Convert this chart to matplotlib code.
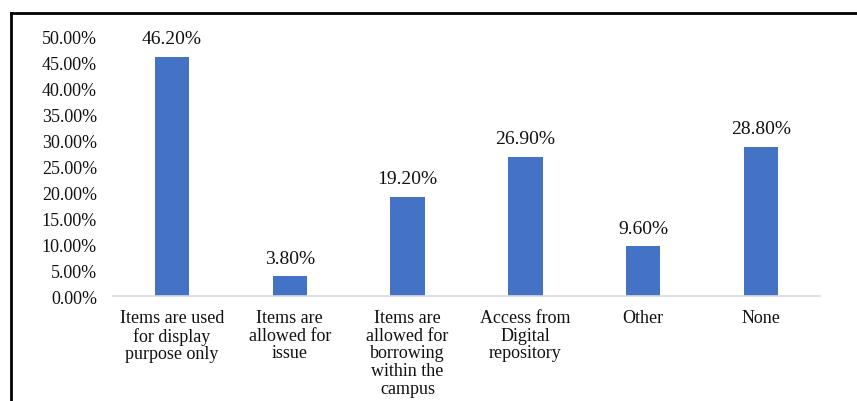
import matplotlib.pyplot as plt
from matplotlib.lines import Line2D

categories = [
    'Items are used\nfor display\npurpose only',
    'Items are\nallowed for\nissue',
    'Items are\nallowed for\nborrowing\nwithin the\ncampus',
    'Access from\nDigital\nrepository',
    'Other',
    'None',
]
values = [46.2, 3.8, 19.2, 26.9, 9.6, 28.8]
yticks = [0, 5, 10, 15, 20, 25, 30, 35, 40, 45, 50]

plt.rcParams['font.family'] = ['Liberation Serif', 'DejaVu Serif']

fig = plt.figure(figsize=(8.57, 4.02), dpi=100)
ax = fig.add_axes([113 / 857, 1 - 297 / 402, 707 / 857, 259 / 402])

x = range(len(categories))
bars = ax.bar(x, values, width=0.29, color='#4472C4')

for b, v in zip(bars, values):
  ax.annotate(f'{v:.2f}%', (b.get_x() + b.get_width() / 2, v),
              xytext=(0, 7), textcoords='offset points',
              ha='center', va='bottom', fontsize=14, color='#111111')

ax.set_xlim(-0.5, len(categories) - 0.5)
ax.set_ylim(0, 50)
ax.set_yticks(yticks)
ax.set_yticklabels([f'{t:.2f}%' for t in yticks])
ax.set_xticks(list(x))
ax.set_xticklabels(categories, linespacing=1.05)
ax.tick_params(axis='both', length=0, labelsize=13, colors='#111111')
ax.tick_params(axis='y', pad=11.5)
ax.tick_params(axis='x', pad=9.5)

for s in ('top', 'right', 'left'):
  ax.spines[s].set_visible(False)
ax.spines['bottom'].set_color('#D9D9D9')
ax.spines['bottom'].set_linewidth(1.2)

# frame lines around the figure (top and left)
fig.add_artist(Line2D([11 / 857, 1.0], [1 - 14 / 402, 1 - 14 / 402],
                      transform=fig.transFigure, color='black', lw=2))
fig.add_artist(Line2D([11 / 857, 11 / 857], [0.0, 1 - 14 / 402],
                      transform=fig.transFigure, color='black', lw=2))

fig.savefig('out.png', dpi=100)
